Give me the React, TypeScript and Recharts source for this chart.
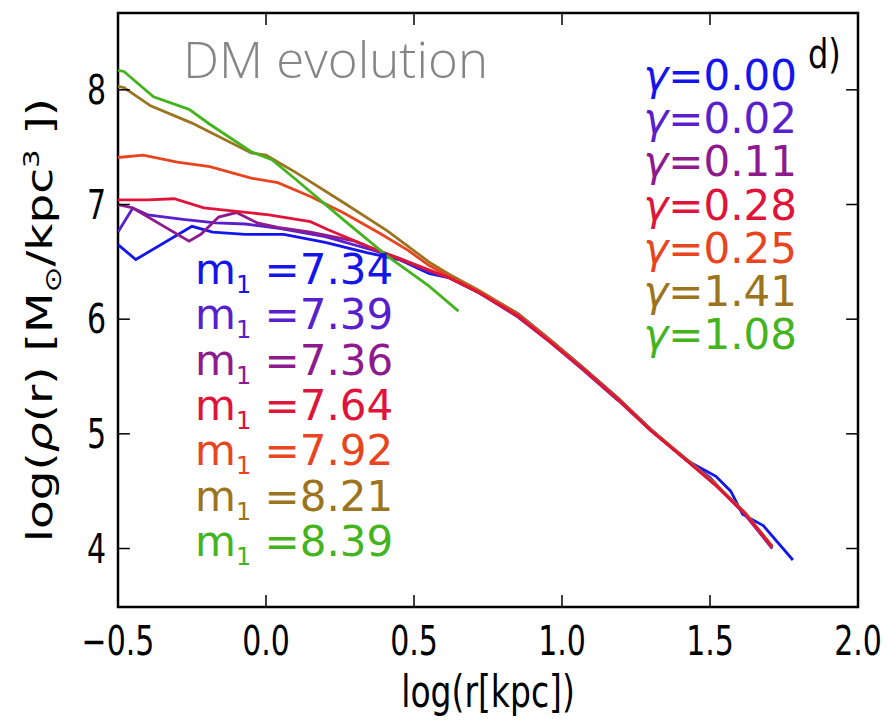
import React from 'react';
import { LineChart, Line, XAxis, YAxis, ReferenceArea, ReferenceLine } from 'recharts';

// density profiles, [log r, log rho]
const m734: [number, number][] = [
  [-0.5, 6.65], [-0.44, 6.52], [-0.25, 6.81], [-0.18, 6.76], [-0.07, 6.74], [0.06, 6.74],
  [0.2, 6.67], [0.34, 6.58], [0.45, 6.52], [0.55, 6.4], [0.62, 6.36], [0.72, 6.24],
  [0.85, 6.05], [0.96, 5.82], [1.07, 5.58], [1.19, 5.31], [1.3, 5.04], [1.42, 4.77],
  [1.52, 4.63], [1.57, 4.5], [1.61, 4.3], [1.68, 4.2], [1.78, 3.9],
];
const m739: [number, number][] = [
  [-0.5, 6.76], [-0.45, 6.97], [-0.4, 6.91], [-0.28, 6.87], [-0.17, 6.84], [-0.07, 6.83],
  [0.05, 6.79], [0.2, 6.72], [0.35, 6.61], [0.45, 6.53], [0.55, 6.42], [0.62, 6.36],
  [0.72, 6.23], [0.85, 6.03], [0.96, 5.81], [1.07, 5.57], [1.19, 5.3], [1.3, 5.03],
  [1.42, 4.78], [1.5, 4.62], [1.56, 4.45], [1.62, 4.29], [1.71, 4.0],
];
const m736: [number, number][] = [
  [-0.5, 7.0], [-0.45, 6.97], [-0.26, 6.68], [-0.22, 6.74], [-0.16, 6.89], [-0.1, 6.93],
  [-0.03, 6.84], [0.04, 6.8], [0.15, 6.76], [0.3, 6.68], [0.42, 6.55], [0.55, 6.42],
  [0.62, 6.36], [0.72, 6.23], [0.85, 6.02], [0.96, 5.8], [1.07, 5.56], [1.19, 5.29],
  [1.3, 5.03], [1.42, 4.77], [1.52, 4.55], [1.62, 4.3], [1.71, 4.02],
];
const m764: [number, number][] = [
  [-0.5, 7.04], [-0.4, 7.04], [-0.31, 7.05], [-0.21, 6.97], [-0.1, 6.94], [0.01, 6.91],
  [0.15, 6.85], [0.21, 6.78], [0.35, 6.63], [0.43, 6.55], [0.55, 6.43], [0.62, 6.36],
  [0.72, 6.23], [0.85, 6.03], [0.96, 5.8], [1.07, 5.57], [1.19, 5.3], [1.3, 5.03],
  [1.42, 4.77], [1.52, 4.55], [1.62, 4.3], [1.71, 4.01],
];
const m792: [number, number][] = [
  [-0.5, 7.41], [-0.415, 7.43], [-0.3, 7.37], [-0.19, 7.33], [-0.05, 7.23], [0.04, 7.19],
  [0.15, 7.07], [0.26, 6.93], [0.39, 6.74], [0.48, 6.6], [0.55, 6.47], [0.62, 6.37],
  [0.72, 6.24], [0.85, 6.04], [0.96, 5.81], [1.07, 5.57], [1.19, 5.3], [1.3, 5.03],
  [1.42, 4.77], [1.52, 4.55], [1.62, 4.3], [1.71, 4.01],
];
const m821: [number, number][] = [
  [-0.5, 8.03], [-0.48, 8.02], [-0.39, 7.86], [-0.25, 7.71], [-0.05, 7.45], [0.0, 7.43],
  [0.1, 7.28], [0.26, 7.02], [0.41, 6.77], [0.55, 6.5], [0.62, 6.39], [0.72, 6.25],
  [0.85, 6.05], [0.96, 5.82], [1.07, 5.58], [1.19, 5.31], [1.3, 5.04], [1.42, 4.78],
  [1.52, 4.56], [1.62, 4.31], [1.71, 4.02],
];
const m839: [number, number][] = [
  [-0.5, 8.17], [-0.48, 8.16], [-0.38, 7.94], [-0.26, 7.83], [-0.19, 7.7], [-0.05, 7.46],
  [0.02, 7.39], [0.1, 7.22], [0.26, 6.87], [0.41, 6.55], [0.55, 6.29], [0.65, 6.07],
];

const massLabels = ['7.34', '7.39', '7.36', '7.64', '7.92', '8.21', '8.39'];
const gammaLabels = ['0.00', '0.02', '0.11', '0.28', '0.25', '1.41', '1.08'];
const colors = ['#1414ec', '#5a1fcc', '#8e1a8e', '#e0143a', '#e8441e', '#9c7420', '#44b41e'];
const profiles = [m734, m739, m736, m764, m792, m821, m839];

const xTicks = [-0.5, 0, 0.5, 1, 1.5, 2];
const yTicks = [4, 5, 6, 7, 8];
const X0 = -0.5, X1 = 2.0, Y0 = 3.49, Y1 = 8.67;
// inward tick length, in data units (about 12px)
const TX = 0.04, TY = 0.105;

// draw order: red on top of the merged tail, green last
const drawOrder = [0, 1, 2, 5, 4, 3, 6];

const FONT = '"DejaVu Sans", sans-serif';
const SQUEEZE = 0.75; // the original figure is squeezed horizontally
const fmt = (v: number) => (v < 0 ? '\u2212' : '') + Math.abs(v).toFixed(1);

const XTick = (props: any) => {
  const { x, y, payload } = props;
  return (
    <text transform={`translate(${x},${y}) scale(${SQUEEZE},1)`} textAnchor="middle" dy="0.71em"
      fontSize={40} fontFamily={FONT} fill="#000">
      {fmt(payload.value)}
    </text>
  );
};

const YTick = (props: any) => {
  const { x, y, payload } = props;
  return (
    <text transform={`translate(${x},${y}) scale(${SQUEEZE},1)`} textAnchor="end" dy="0.355em"
      fontSize={40} fontFamily={FONT} fill="#000">
      {payload.value}
    </text>
  );
};

export default function App() {
  const series = profiles.map((p) => p.map(([x, y]) => ({ x, y })));

  return (
    <div style={{ position: 'absolute', left: 0, top: 0, width: 890, height: 728, background: '#fff' }}>
      <LineChart width={890} height={728} margin={{ top: 13, right: 32, left: 58, bottom: 61 }}>
        <XAxis
          dataKey="x"
          type="number"
          domain={[X0, X1]}
          ticks={xTicks}
          height={60}
          tickSize={0}
          tickMargin={20}
          axisLine={false}
          tickLine={false}
          tick={<XTick />}
          allowDataOverflow
        />
        <YAxis
          type="number"
          domain={[Y0, Y1]}
          ticks={yTicks}
          width={60}
          tickSize={0}
          tickMargin={12}
          axisLine={false}
          tickLine={false}
          tick={<YTick />}
          allowDataOverflow
        />
        {drawOrder.map((i) => (
          <Line
            key={massLabels[i]}
            data={series[i]}
            dataKey="y"
            type="linear"
            stroke={colors[i]}
            strokeWidth={2.8}
            dot={false}
            activeDot={false}
            isAnimationActive={false}
          />
        ))}
        {xTicks.map((t) => (
          <ReferenceLine key={'xb' + t} segment={[{ x: t, y: Y0 }, { x: t, y: Y0 + TY }]} stroke="#000" strokeWidth={1.5} />
        ))}
        {xTicks.map((t) => (
          <ReferenceLine key={'xt' + t} segment={[{ x: t, y: Y1 }, { x: t, y: Y1 - TY }]} stroke="#000" strokeWidth={1.5} />
        ))}
        {yTicks.map((t) => (
          <ReferenceLine key={'yl' + t} segment={[{ x: X0, y: t }, { x: X0 + TX, y: t }]} stroke="#000" strokeWidth={1.5} />
        ))}
        {yTicks.map((t) => (
          <ReferenceLine key={'yr' + t} segment={[{ x: X1, y: t }, { x: X1 - TX, y: t }]} stroke="#000" strokeWidth={1.5} />
        ))}
        <ReferenceArea x1={X0} x2={X1} y1={Y0} y2={Y1} fill="none" fillOpacity={0} stroke="#000" strokeWidth={2.5} />
      </LineChart>

      <svg
        width={890}
        height={728}
        style={{ position: 'absolute', left: 0, top: 0, pointerEvents: 'none' }}
      >
        <text x={183} y={78} fontSize={50} fontWeight={300} fill="#858585" fontFamily='"Open Sans", sans-serif'
          textLength={305} lengthAdjust="spacingAndGlyphs">
          DM evolution
        </text>
        <text transform="translate(808,68) scale(0.8,1)" fontSize={40} fill="#000" fontFamily={FONT}>d)</text>

        {gammaLabels.map((g, i) => (
          <text key={g + i} x={797} y={90 + i * 43.2} fontSize={42} fill={colors[i]}
            fontFamily={FONT} textAnchor="end">
            <tspan fontStyle="italic">γ</tspan>={g}
          </text>
        ))}

        {massLabels.map((m, i) => (
          <text key={m} x={195} y={284 + i * 45.3} fontSize={42} fill={colors[i]} fontFamily={FONT}>
            m<tspan fontSize={24} dy={9}>1</tspan>
            <tspan dy={-9}> ={m}</tspan>
          </text>
        ))}

        <text transform={`translate(488,707) scale(${SQUEEZE},1)`} fontSize={44} fill="#000"
          fontFamily={FONT} textAnchor="middle">
          log(r[kpc])
        </text>
        <text transform={`translate(52,320) scale(${SQUEEZE},1) rotate(-90)`} fontSize={47} fill="#000"
          fontFamily={FONT} textAnchor="middle">
          log(<tspan fontStyle="italic">ρ</tspan>(r) [M<tspan fontSize={31} dy={12}>⊙</tspan>
          <tspan dy={-12}>/kpc</tspan><tspan fontSize={29} dy={-18}>3</tspan><tspan dy={18}> ])</tspan>
        </text>
      </svg>
    </div>
  );
}
